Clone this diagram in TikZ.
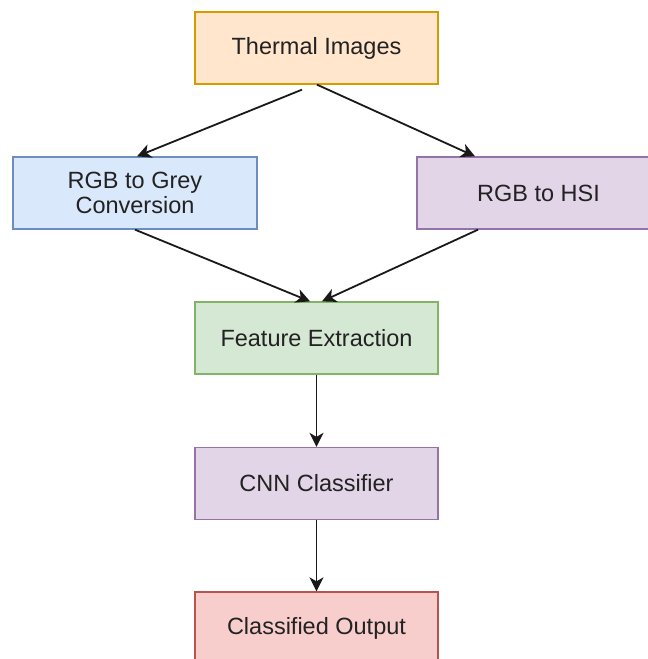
\documentclass[tikz,border=0pt]{standalone}
\usepackage{fontspec}
\setmainfont{Liberation Sans}
\usetikzlibrary{arrows.meta,calc}
\definecolor{orF}{HTML}{FFE6CC}\definecolor{orD}{HTML}{D79B00}
\definecolor{blF}{HTML}{DAE8FC}\definecolor{blD}{HTML}{6C8EBF}
\definecolor{puF}{HTML}{E1D5E7}\definecolor{puD}{HTML}{9673A6}
\definecolor{grF}{HTML}{D5E8D4}\definecolor{grD}{HTML}{82B366}
\definecolor{reF}{HTML}{F8CECC}\definecolor{reD}{HTML}{B85450}
\definecolor{txt}{HTML}{222222}
\begin{document}
\begin{tikzpicture}[x=1pt,y=-1pt,
  box/.style={draw, line width=1.3pt, minimum width=243pt, minimum height=72pt,
    inner sep=0pt, align=center, text=txt,
    font=\fontsize{23.5}{25}\selectfont},
  arr/.style={line width=1.8pt, draw=black!90, -{Stealth[length=14pt,width=14pt,inset=4pt]}}]
\useasboundingbox (0,0) rectangle (648,659);
\clip (0,0) rectangle (648,659);
\node[box, fill=orF, draw=orD] (ti) at (316.5,48) {Thermal Images};
\node[box, fill=blF, draw=blD, minimum width=244pt] (rg) at (135,193) {RGB to Grey\\Conversion};
\node[box, fill=puF, draw=puD] (hs) at (538.5,193) {RGB to HSI};
\node[box, fill=grF, draw=grD] (fe) at (316.5,338) {Feature Extraction};
\node[box, fill=puF, draw=puD] (cn) at (316.5,483.5) {CNN Classifier};
\node[box, fill=reF, draw=reD] (co) at (316.5,628) {Classified Output};
\draw[arr] ([xshift=-14.5pt,yshift=-5pt]ti.south) -- ([xshift=2pt]rg.north);
\draw[arr] ([xshift=0.5pt]ti.south) -- ([xshift=-63.5pt]hs.north);
\draw[arr] (rg.south) -- ([xshift=-6.5pt]fe.north);
\draw[arr] ([xshift=-60.5pt]hs.south) -- ([xshift=5.5pt]fe.north);
\draw[arr] (fe.south) -- (cn.north);
\draw[arr] (cn.south) -- (co.north);
\end{tikzpicture}
\end{document}
